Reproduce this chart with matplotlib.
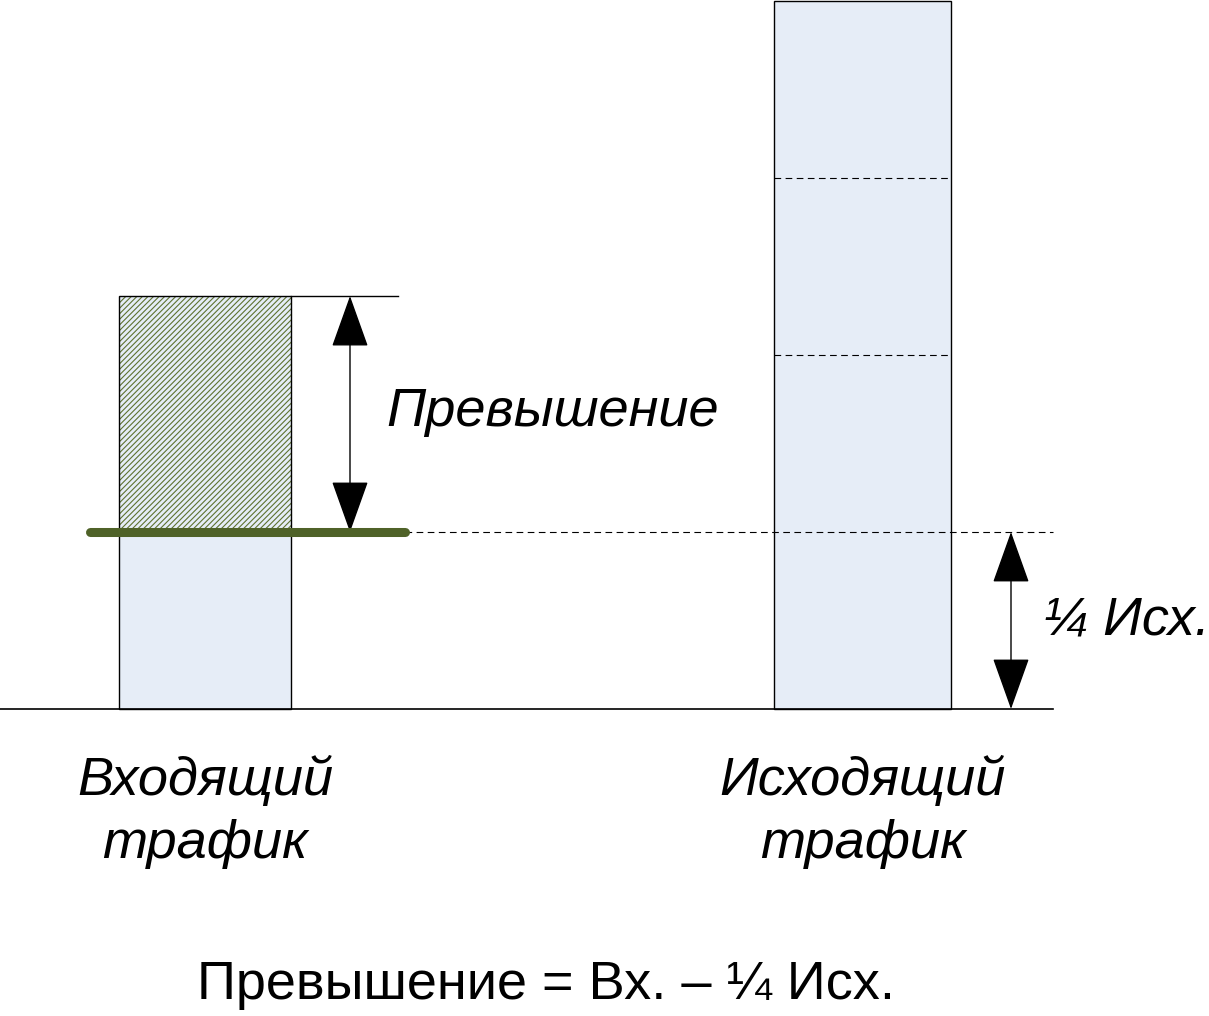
import matplotlib.pyplot as plt
from matplotlib.patches import FancyArrowPatch

plt.rcParams['font.family'] = ['Liberation Sans', 'DejaVu Sans']

# data (units of "quarter of outgoing")
categories = ['Входящий\nтрафик', 'Исходящий\nтрафик']
values = [2.333, 4.0]
quarter = values[1] / 4
formula = 'Превышение = Вх. – ¼ Исх.'

# layout (pixel-like x coordinates)
x_pos = [205, 862.5]
widths = [172, 177]
fill = '#E6EDF7'
green = '#4F6228'

fig = plt.figure(figsize=(12.09, 10.16), dpi=100)
ax = fig.add_axes([0, 0, 1, 1])
ax.set_xlim(0, 1209)
ax.set_ylim(-307 / 177, 709 / 177)
ax.axis('off')

# incoming bar: lower part plain, upper part hatched
ax.bar(x_pos[0], quarter, width=widths[0], color=fill, edgecolor='black', lw=1)
plt.rcParams['hatch.linewidth'] = 0.8
ax.bar(x_pos[0], values[0] - quarter, bottom=quarter, width=widths[0],
       color=fill, edgecolor='#5E7230', hatch='//////', lw=0)
ax.bar(x_pos[0], values[0] - quarter, bottom=quarter, width=widths[0],
       color='none', edgecolor='black', lw=1)

# outgoing bar with quarter dividers
ax.bar(x_pos[1], values[1], width=widths[1], color=fill, edgecolor='black', lw=1)
x0, x1 = x_pos[1] - widths[1] / 2, x_pos[1] + widths[1] / 2
for k in (2, 3):
    ax.plot([x0, x1], [k * quarter] * 2, color='black', lw=0.8, ls=(0, (6, 4)))

# baseline, top line, dashed quarter line
ax.plot([0, 1053], [0, 0], color='black', lw=1.2)
ax.plot([x_pos[0] + widths[0] / 2, 398], [values[0]] * 2, color='black', lw=1)
ax.plot([405, 1053], [quarter] * 2, color='black', lw=0.8, ls=(0, (6, 4)))
ax.plot([90, 405], [quarter] * 2, color=green, lw=6.5, solid_capstyle='round')

# arrows
for xa, ya, yb in [(350, values[0], quarter), (1011, quarter, 0)]:
    ax.add_patch(FancyArrowPatch((xa, ya), (xa, yb), arrowstyle='<|-|>,head_length=0.7,head_width=0.25',
                                 mutation_scale=48, color='black', lw=1,
                                 shrinkA=0, shrinkB=0))

fs = 39
ax.text(386, (709 - 412) / 177, 'Превышение', fontsize=fs, style='italic',
        ha='left', va='center')
ax.text(1043, (709 - 620) / 177, '¼ Исх.', fontsize=fs, style='italic',
        ha='left', va='center')
for xp, lab in zip(x_pos, categories):
    ax.text(xp, (709 - 812) / 177, lab, fontsize=fs, style='italic',
            ha='center', va='center', linespacing=1.32)
ax.text(546, (709 - 985) / 177, formula, fontsize=fs, ha='center', va='center')

fig.savefig('out.png', dpi=100)
